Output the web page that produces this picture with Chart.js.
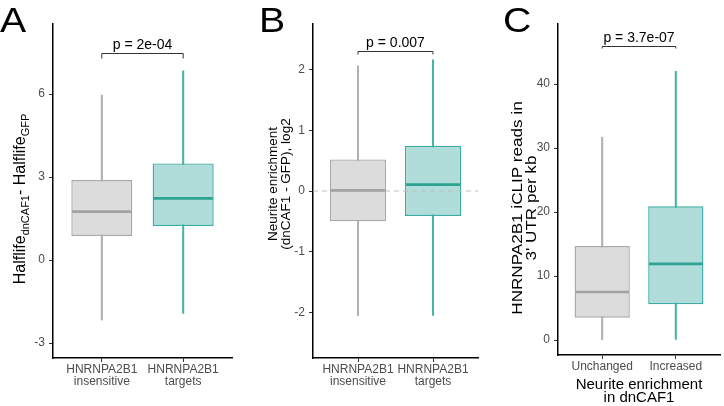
<!DOCTYPE html>
<html>
<head>
<meta charset="utf-8">
<script src="https://cdn.jsdelivr.net/npm/chart.js@4.4.0/dist/chart.umd.min.js"></script>
<style>
  body { margin: 0; background: #fff; width: 724px; height: 406px; position: relative; overflow: hidden;
         font-family: "Liberation Sans", Arial, sans-serif; }
  .panel { position: absolute; top: 0; height: 406px; }
  .letter { position: absolute; top: 2px; font-size: 35px; line-height: 35px; color: #000;
            transform: scaleX(1.12); transform-origin: left top; }
</style>
</head>
<body>
<div class="panel" style="left:0;width:240px"><canvas id="chartA" width="240" height="406"></canvas></div>
<div class="panel" style="left:240px;width:242px"><canvas id="chartB" width="242" height="406"></canvas></div>
<div class="panel" style="left:482px;width:242px"><canvas id="chartC" width="242" height="406"></canvas></div>
<div class="letter" style="left:0px">A</div>
<div class="letter" style="left:259px">B</div>
<div class="letter" style="left:503px">C</div>

<script>
// group positions on the x axis (ggplot discrete positions)
const groups = [1, 2];
const labelsAB = [["HNRNPA2B1", "insensitive"], ["HNRNPA2B1", "targets"]];
const labelsC = ["Unchanged", "Increased"];

// panel A: half-life difference
const lowA = [-2.17, -1.93];
const q1A = [0.87, 1.23];
const medA = [1.75, 2.23];
const q3A = [2.89, 3.49];
const highA = [5.96, 6.84];
const ticksA = [-3, 0, 3, 6];

// panel B: neurite enrichment, log2
const lowB = [-2.05, -2.05];
const q1B = [-0.5, -0.41];
const medB = [0.01, 0.105];
const q3B = [0.52, 0.745];
const highB = [2.06, 2.16];
const ticksB = [-2, -1, 0, 1, 2];

// panel C: iCLIP reads per kb
const lowC = [0, 0];
const q1C = [3.5, 5.6];
const medC = [7.5, 11.9];
const q3C = [14.7, 20.9];
const highC = [31.7, 42];
const ticksC = [0, 10, 20, 30, 40];

const FONT = '"Liberation Sans", Arial, sans-serif';
const fills = ["#dcdcdc", "#b0ddd9"];
const borders = ["#a8a8a8", "#3aada0"];
const medianColors = ["#a2a2a2", "#2ca393"];
const whiskerColors = ["#b0b0b0", "#45b5a6"];

// medians, zero line, p-value bracket and the rotated y titles
const boxExtras = {
  id: "boxExtras",
  afterDatasetsDraw(chart, args, opts) {
    const { ctx, chartArea, scales: { x, y } } = chart;
    ctx.save();
    if (opts.zeroLine) {
      const zy = y.getPixelForValue(0);
      ctx.strokeStyle = "#bdbdbd"; ctx.lineWidth = 1; ctx.setLineDash([5, 4]);
      ctx.beginPath(); ctx.moveTo(chartArea.left, zy); ctx.lineTo(chartArea.right, zy); ctx.stroke();
      ctx.setLineDash([]);
    }
    const boxMeta = chart.getDatasetMeta(0);
    opts.medians.forEach((m, i) => {
      const bar = boxMeta.data[i];
      const py = y.getPixelForValue(m);
      ctx.strokeStyle = medianColors[i]; ctx.lineWidth = 2.6;
      ctx.beginPath();
      ctx.moveTo(bar.x - bar.width / 2 + 0.8, py);
      ctx.lineTo(bar.x + bar.width / 2 - 0.8, py);
      ctx.stroke();
    });
    const b = opts.bracket;
    const x1 = x.getPixelForValue(groups[0]), x2 = x.getPixelForValue(groups[1]);
    const by = Math.round(y.getPixelForValue(b.level)) + 0.5;
    ctx.strokeStyle = "#333"; ctx.lineWidth = 1;
    ctx.beginPath();
    ctx.moveTo(x1, by + b.tip); ctx.lineTo(x1, by); ctx.lineTo(x2, by); ctx.lineTo(x2, by + b.tip);
    ctx.stroke();
    ctx.fillStyle = "#000"; ctx.font = "14px " + FONT;
    ctx.textAlign = "center"; ctx.textBaseline = "alphabetic";
    ctx.fillText(b.label, (x1 + x2) / 2, by - 5);

    const yl = opts.yLabel;
    ctx.textAlign = "left";
    yl.lines.forEach(line => {
      ctx.save();
      ctx.translate(line.x, yl.cy);
      ctx.rotate(-Math.PI / 2);
      ctx.scale(yl.stretch, 1);
      const widths = line.parts.map(p => {
        ctx.font = (p.sub ? yl.subSize : yl.size) + "px " + FONT;
        return ctx.measureText(p.t).width;
      });
      let cx = -widths.reduce((a, c) => a + c, 0) / 2;
      line.parts.forEach((p, i) => {
        ctx.font = (p.sub ? yl.subSize : yl.size) + "px " + FONT;
        ctx.fillText(p.t, cx, p.sub ? yl.subShift : 0);
        cx += widths[i];
      });
      ctx.restore();
    });
    ctx.restore();
  }
};

function makePanel(id, p) {
  const boxData = groups.map((g, i) => ({ x: g, y: [p.q1[i], p.q3[i]] }));
  const whiskerData = groups.map((g, i) => ({ x: g, y: [p.low[i], p.high[i]] }));
  return new Chart(document.getElementById(id), {
    type: "bar",
    data: {
      datasets: [
        {
          data: boxData, order: 0, grouped: false,
          backgroundColor: fills, borderColor: borders, borderWidth: 1.4, borderSkipped: false,
          barPercentage: 0.75, categoryPercentage: 1
        },
        {
          data: whiskerData, order: 1, grouped: false,
          backgroundColor: whiskerColors, borderWidth: 0, barThickness: 1.4
        }
      ]
    },
    options: {
      responsive: false,
      animation: false,
      layout: { padding: p.padding },
      plugins: {
        legend: { display: false },
        tooltip: { enabled: false },
        boxExtras: { medians: p.med, bracket: p.bracket, zeroLine: p.zeroLine, yLabel: p.yLabel }
      },
      scales: {
        x: {
          type: "linear", min: 0.4, max: 2.6, offset: false,
          afterBuildTicks: s => { s.ticks = groups.map(v => ({ value: v })); },
          afterFit: s => { s.height = p.xHeight; },
          border: { display: true, color: "#000", width: 1.5 },
          grid: { display: true, offset: false, drawOnChartArea: false, drawTicks: true, tickLength: 4, color: "#333" },
          ticks: {
            autoSkip: false, maxRotation: 0, padding: 2, color: "#4d4d4d",
            font: { size: 12, family: FONT, lineHeight: 1.0 },
            callback: (v, i) => p.labels[i]
          },
          title: p.xTitle || { display: false }
        },
        y: {
          min: p.yMin, max: p.yMax,
          afterBuildTicks: s => { s.ticks = p.ticks.map(v => ({ value: v })); },
          afterFit: s => { s.width = p.yWidth; },
          border: { display: true, color: "#000", width: 1.5 },
          grid: { display: true, drawOnChartArea: false, drawTicks: true, tickLength: 4, color: "#333" },
          ticks: { padding: 4, color: "#4d4d4d", font: { size: 12, family: FONT }, callback: v => String(v) }
        }
      }
    },
    plugins: [boxExtras]
  });
}

makePanel("chartA", {
  low: lowA, q1: q1A, med: medA, q3: q3A, high: highA, ticks: ticksA, labels: labelsAB,
  yMin: -3.54, yMax: 8.53, yWidth: 53, xHeight: 48,
  padding: { left: 0, right: 8, top: 24, bottom: 0 },
  bracket: { level: 7.48, tip: 5, label: "p = 2e-04" },
  yLabel: {
    cy: 199, size: 16, subSize: 11, subShift: 4, stretch: 1,
    lines: [{ x: 25, parts: [{ t: "Halflife" }, { t: "dnCAF1", sub: true }, { t: "- Halflife" }, { t: "GFP", sub: true }] }]
  }
});

makePanel("chartB", {
  low: lowB, q1: q1B, med: medB, q3: q3B, high: highB, ticks: ticksB, labels: labelsAB,
  yMin: -2.75, yMax: 2.75, yWidth: 73, xHeight: 48, zeroLine: true,
  padding: { left: 0, right: 4, top: 24, bottom: 0 },
  bracket: { level: 2.3, tip: 3, label: "p = 0.007" },
  yLabel: {
    cy: 184, size: 13.5, stretch: 1,
    lines: [
      { x: 37, parts: [{ t: "Neurite enrichment" }] },
      { x: 49.5, parts: [{ t: "(dnCAF1 - GFP), log2" }] }
    ]
  }
});

makePanel("chartC", {
  low: lowC, q1: q1C, med: medC, q3: q3C, high: highC, ticks: ticksC, labels: labelsC,
  yMin: -2.34, yMax: 49.4, yWidth: 76, xHeight: 51,
  padding: { left: 0, right: 4, top: 24, bottom: 0 },
  bracket: { level: 46, tip: 2, label: "p = 3.7e-07" },
  yLabel: {
    cy: 208, size: 14, stretch: 1.22,
    lines: [
      { x: 39.5, parts: [{ t: "HNRNPA2B1 iCLIP reads in" }] },
      { x: 53.5, parts: [{ t: "3' UTR per kb" }] }
    ]
  },
  xTitle: {
    display: true, text: ["Neurite enrichment", "in dnCAF1"], color: "#000",
    font: { size: 15, family: FONT, lineHeight: 0.9 }, padding: { top: 0, bottom: 1 }
  }
});
</script>
</body>
</html>
